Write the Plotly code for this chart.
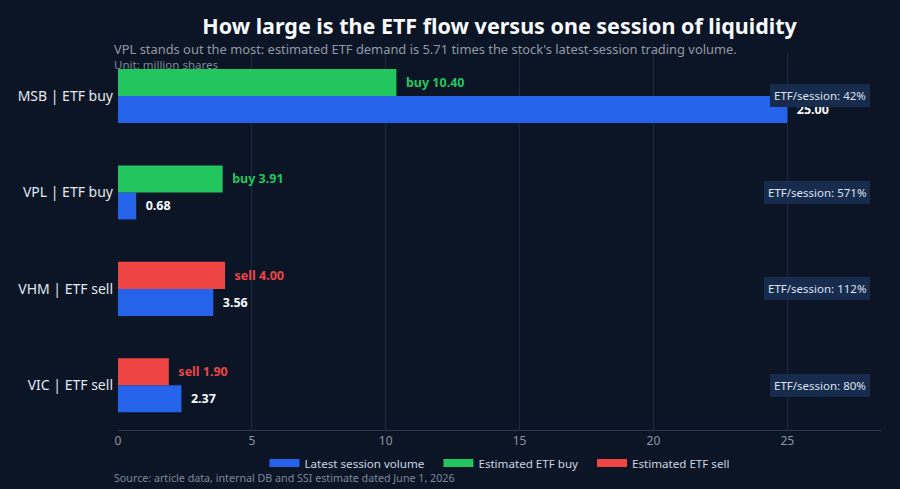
import plotly.graph_objects as go

categories = ["MSB | ETF buy", "VPL | ETF buy", "VHM | ETF sell", "VIC | ETF sell"]
session_volume = [25.00, 0.68, 3.56, 2.37]
etf_buy = [10.40, 3.91, None, None]
etf_sell = [None, None, 4.00, 1.90]
etf_session_pct = [42, 571, 112, 80]
x_ticks = [0, 5, 10, 15, 20, 25]
legend_names = ["Latest session volume", "Estimated ETF buy", "Estimated ETF sell"]

BG = "#0b1526"
BLUE = "#2563eb"
GREEN = "#22c55e"
RED = "#ef4444"
FONT = "Noto Sans"
PAD = "\u00a0\u00a0"

fig = go.Figure()

fig.add_trace(go.Bar(
    y=categories, x=session_volume, orientation="h", name=legend_names[0],
    marker=dict(color=BLUE, line=dict(width=0)), offsetgroup="vol",
    text=[PAD + f"{v:.2f}" for v in session_volume], textposition="outside",
    textfont=dict(color="#f8fafc", size=12.5, family=FONT, weight="bold"),
    cliponaxis=False, showlegend=False, hoverinfo="x+y",
))
fig.add_trace(go.Bar(
    y=categories, x=etf_buy, orientation="h", name=legend_names[1],
    marker=dict(color=GREEN, line=dict(width=0)), offsetgroup="etf",
    text=[(PAD + f"buy {v:.2f}") if v is not None else "" for v in etf_buy],
    textposition="outside",
    textfont=dict(color=GREEN, size=12.5, family=FONT, weight="bold"),
    cliponaxis=False, showlegend=False, hoverinfo="x+y",
))
fig.add_trace(go.Bar(
    y=categories, x=etf_sell, orientation="h", name=legend_names[2],
    marker=dict(color=RED, line=dict(width=0)), offsetgroup="etf",
    text=[(PAD + f"sell {v:.2f}") if v is not None else "" for v in etf_sell],
    textposition="outside",
    textfont=dict(color=RED, size=12.5, family=FONT, weight="bold"),
    cliponaxis=False, showlegend=False, hoverinfo="x+y",
))

# legend entries (wide swatches)
GAP = "\u00a0\u00a0\u00a0"
for i, (nm, col) in enumerate(zip(legend_names, [BLUE, GREEN, RED])):
    label = nm + (GAP if i < len(legend_names) - 1 else "")
    fig.add_trace(go.Scatter(x=[None], y=[None], mode="lines", name=label,
                             line=dict(color=col, width=8), hoverinfo="skip"))

annotations = []
for cat, pct in zip(categories, etf_session_pct):
    annotations.append(dict(
        xref="paper", yref="y", x=0.9855, y=cat, xanchor="right", yanchor="middle",
        text=f"ETF/session: {pct}%", showarrow=False,
        font=dict(color="#dbe4f0", size=11.5, family=FONT),
        bgcolor="#172b4d", bordercolor="#172b4d", borderwidth=1, borderpad=3,
    ))

annotations.append(dict(
    xref="paper", yref="paper", x=-0.0075, y=1.013, xanchor="left", yanchor="middle",
    text="VPL stands out the most: estimated ETF demand is 5.71 times the stock's latest-session trading volume.",
    showarrow=False, font=dict(color="#8f99a8", size=12.9, family=FONT),
))
annotations.append(dict(
    xref="paper", yref="paper", x=-0.0075, y=0.973, xanchor="left", yanchor="middle",
    text="Unit: million shares", showarrow=False,
    font=dict(color="#7e8898", size=11.5, family=FONT),
))
annotations.append(dict(
    xref="paper", yref="paper", x=-0.0075, y=-0.127, xanchor="left", yanchor="middle",
    text="Source: article data, internal DB and SSI estimate dated June 1, 2026",
    showarrow=False, font=dict(color="#7e8898", size=10.7, family=FONT),
))

fig.update_layout(
    width=900, height=489,
    paper_bgcolor=BG, plot_bgcolor=BG,
    margin=dict(l=118, r=19, t=54, b=58),
    font=dict(family=FONT, color="#e2e8f0"),
    title=dict(text="<b>How large is the ETF flow versus one session of liquidity</b>",
               x=0.5, xref="paper", xanchor="center", y=1 - 26 / 489, yref="container",
               yanchor="middle", font=dict(size=21.5, color="#f8fafc", family=FONT)),
    barmode="group", bargap=0.44, bargroupgap=0,
    xaxis=dict(range=[0, 28.5], tickvals=x_ticks, showgrid=True, gridcolor="#1f2b3d",
               gridwidth=1, zeroline=False, showline=True, linecolor="#2c3a4f", linewidth=1,
               tickfont=dict(color="#8b95a5", size=12, family=FONT), ticks="", fixedrange=True),
    yaxis=dict(categoryorder="array", categoryarray=categories[::-1],
               range=[-0.463, 3.435], showgrid=False, zeroline=False, showline=False,
               tickfont=dict(color="#e2e8f0", size=14, family=FONT), ticks="",
               ticklabelstandoff=4),
    legend=dict(orientation="h", x=0.5, xanchor="center", y=-0.085, yanchor="middle",
                font=dict(color="#cbd5e1", size=11.6, family=FONT), bgcolor="rgba(0,0,0,0)",
                itemwidth=30),
    annotations=annotations,
    showlegend=True,
)

fig.write_html(
    "out.html",
    config={"displayModeBar": False},
    post_script="document.body.style.margin='0';document.body.style.overflow='hidden';",
)
